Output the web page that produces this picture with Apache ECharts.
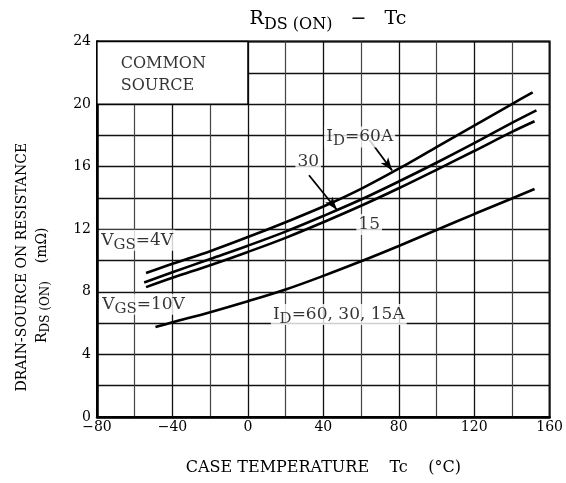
<!DOCTYPE html>
<html>
<head>
<meta charset="utf-8">
<script src="https://cdn.jsdelivr.net/npm/echarts@6/dist/echarts.min.js"></script>
<style>html,body{margin:0;padding:0;background:#fff}#c{width:566px;height:483px}</style>
</head>
<body>
<div id="c"></div>
<script>
// ---- data ----
const xTickValues = [-80, -40, 0, 40, 80, 120, 160];
const xTickLabels = ['\u221280', '\u221240', '0', '40', '80', '120', '160'];
const yTickValues = [0, 4, 8, 12, 16, 20, 24];
const yTickLabels = ['0', '4', '8', '12', '16', '20', '24'];

// VGS = 4V, ID = 60A
const t60 = [-54, -40, -20, 0, 20, 40, 60, 80, 100, 120, 140, 151];
const r60 = [9.2, 9.8, 10.6, 11.5, 12.45, 13.45, 14.58, 15.87, 17.25, 18.63, 20.0, 20.75];
// VGS = 4V, ID = 30A
const t30 = [-55, -40, -20, 0, 20, 40, 60, 80, 100, 120, 140, 153];
const r30 = [8.6, 9.25, 10.1, 10.95, 11.85, 12.85, 13.9, 15.05, 16.25, 17.5, 18.8, 19.6];
// VGS = 4V, ID = 15A
const t15 = [-54, -40, -20, 0, 20, 40, 60, 80, 100, 120, 140, 152];
const r15 = [8.3, 8.9, 9.7, 10.55, 11.45, 12.45, 13.5, 14.62, 15.8, 17.0, 18.22, 18.9];
// VGS = 10V, ID = 60, 30, 15A
const t10 = [-49, -40, -20, 0, 20, 40, 60, 80, 100, 120, 140, 152];
const r10 = [5.75, 6.05, 6.7, 7.4, 8.15, 9.02, 9.95, 10.93, 11.95, 12.97, 13.97, 14.57];

// annotation texts and their anchors (data units)
const noteTexts = ['{n|V}{s|GS}{n|=4V}', '{n|V}{s|GS}{n|=10V}', '{n|I}{s|D}{n|=60A}', '{n|30}', '{n|15}', '{n|I}{s|D}{n|=60, 30, 15A}', '{c|COMMON}\n{c|SOURCE}'];
const noteT = [-78.8, -78.3, 40.5, 32, 64.3, 12.2, -68.5];
const noteR = [11.3, 7.2, 17.9, 16.3, 12.3, 6.55, 21.9];
const noteAlign = ['left', 'left', 'left', 'center', 'center', 'left', 'left'];
// arrows: start -> tip (data units)
const arrowFrom = [[64.5, 17.7], [32.4, 15.45]];
const arrowTo = [[76.5, 15.75], [47.2, 13.25]];
// COMMON SOURCE box (data units)
const boxFrom = [-80, 24];
const boxTo = [0, 20];

// ---- chart ----
const F = 'DejaVu Serif';
const zip = (a, b) => a.map((v, i) => [v, b[i]]);
const richStyle = (size, sub, drop) => ({
  n: { fontFamily: F, fontSize: size, fontWeight: 'normal', color: '#000', lineHeight: size + 4 },
  s: { fontFamily: F, fontSize: sub, fontWeight: 'normal', color: '#000', lineHeight: sub, padding: [drop, 0, 0, 0] }
});

function curve(name, t, r) {
  return {
    name: name, type: 'line', data: zip(t, r), smooth: 0.35, symbol: 'none',
    lineStyle: { color: '#000', width: 2.6 }, z: 3, silent: true
  };
}

const yNameRich = Object.assign(richStyle(14, 12, 8), {
  t: { fontFamily: F, fontSize: 14, color: '#000', lineHeight: 22, padding: [0, 76, 0, 0] },
  e: { fontFamily: F, fontSize: 14, color: '#000', padding: [0, 112, 0, 0] }
});

const chart = echarts.init(document.getElementById('c'), null, { renderer: 'canvas' });
chart.setOption({
  animation: false,
  backgroundColor: '#fff',
  title: {
    text: '{n|R}{s|DS (ON)}{n|   \u2212   Tc}',
    left: 323, top: 3, textAlign: 'center',
    textStyle: { fontWeight: 'normal', rich: richStyle(19, 16, 10) }
  },
  grid: { left: 97, right: 16, top: 41.5, bottom: 66, show: true, borderColor: '#000', borderWidth: 2, backgroundColor: 'transparent' },
  xAxis: {
    type: 'value', min: -80, max: 160, interval: 40,
    name: 'CASE TEMPERATURE    Tc    (\u00B0C)', nameLocation: 'middle', nameGap: 43,
    nameTextStyle: { fontFamily: F, fontSize: 16, color: '#000' },
    axisLine: { show: true, onZero: false, lineStyle: { color: '#000', width: 2.5 } },
    axisTick: { show: false },
    axisLabel: { margin: 3, fontFamily: F, fontSize: 14, color: '#000',
      formatter: v => xTickLabels[xTickValues.indexOf(v)] },
    splitLine: { show: true, lineStyle: { color: '#111', width: 1.3 } },
    minorTick: { show: false, splitNumber: 2 },
    minorSplitLine: { show: true, lineStyle: { color: '#444', width: 1.2 } }
  },
  yAxis: {
    type: 'value', min: 0, max: 24, interval: 4,
    name: '{t|DRAIN-SOURCE ON RESISTANCE}\n{n|R}{s|DS (ON)}{n|    (m\u03A9)}{e|}',
    nameLocation: 'middle', nameGap: 46, nameRotate: 90,
    nameTextStyle: { rich: yNameRich },
    axisLine: { show: true, onZero: false, lineStyle: { color: '#000', width: 2.5 } },
    axisTick: { show: false },
    axisLabel: { margin: 6, fontFamily: F, fontSize: 14, color: '#000',
      formatter: v => yTickLabels[yTickValues.indexOf(v)] },
    splitLine: { show: true, lineStyle: { color: '#111', width: 1.3 } },
    minorTick: { show: false, splitNumber: 2 },
    minorSplitLine: { show: true, lineStyle: { color: '#111', width: 1.3 } }
  },
  series: [
    curve('60A', t60, r60),
    curve('30A', t30, r30),
    curve('15A', t15, r15),
    curve('10V', t10, r10),
    {
      name: 'notes', type: 'scatter', symbolSize: 0, silent: true, z: 5,
      data: noteTexts.map((txt, i) => ({
        value: [noteT[i], noteR[i]],
        label: { formatter: txt, align: noteAlign[i] }
      })),
      label: {
        show: true, position: 'inside', verticalAlign: 'middle', color: '#000',
        backgroundColor: '#fff', padding: [0, 2, 0, 2],
        rich: Object.assign(richStyle(17, 15, 9), {
          c: { fontFamily: F, fontSize: 16, color: '#000', lineHeight: 22 }
        })
      },
      markArea: {
        silent: true,
        itemStyle: { color: '#fff', borderColor: '#000', borderWidth: 1.3 },
        data: [[{ coord: boxFrom }, { coord: boxTo }]]
      },
      markLine: {
        silent: true, symbol: ['none', 'arrow'], symbolSize: [7, 13],
        lineStyle: { color: '#000', width: 1.8, type: 'solid' },
        label: { show: false },
        data: arrowFrom.map((p, i) => [{ coord: p }, { coord: arrowTo[i] }])
      }
    }
  ]
});
</script>
</body>
</html>
